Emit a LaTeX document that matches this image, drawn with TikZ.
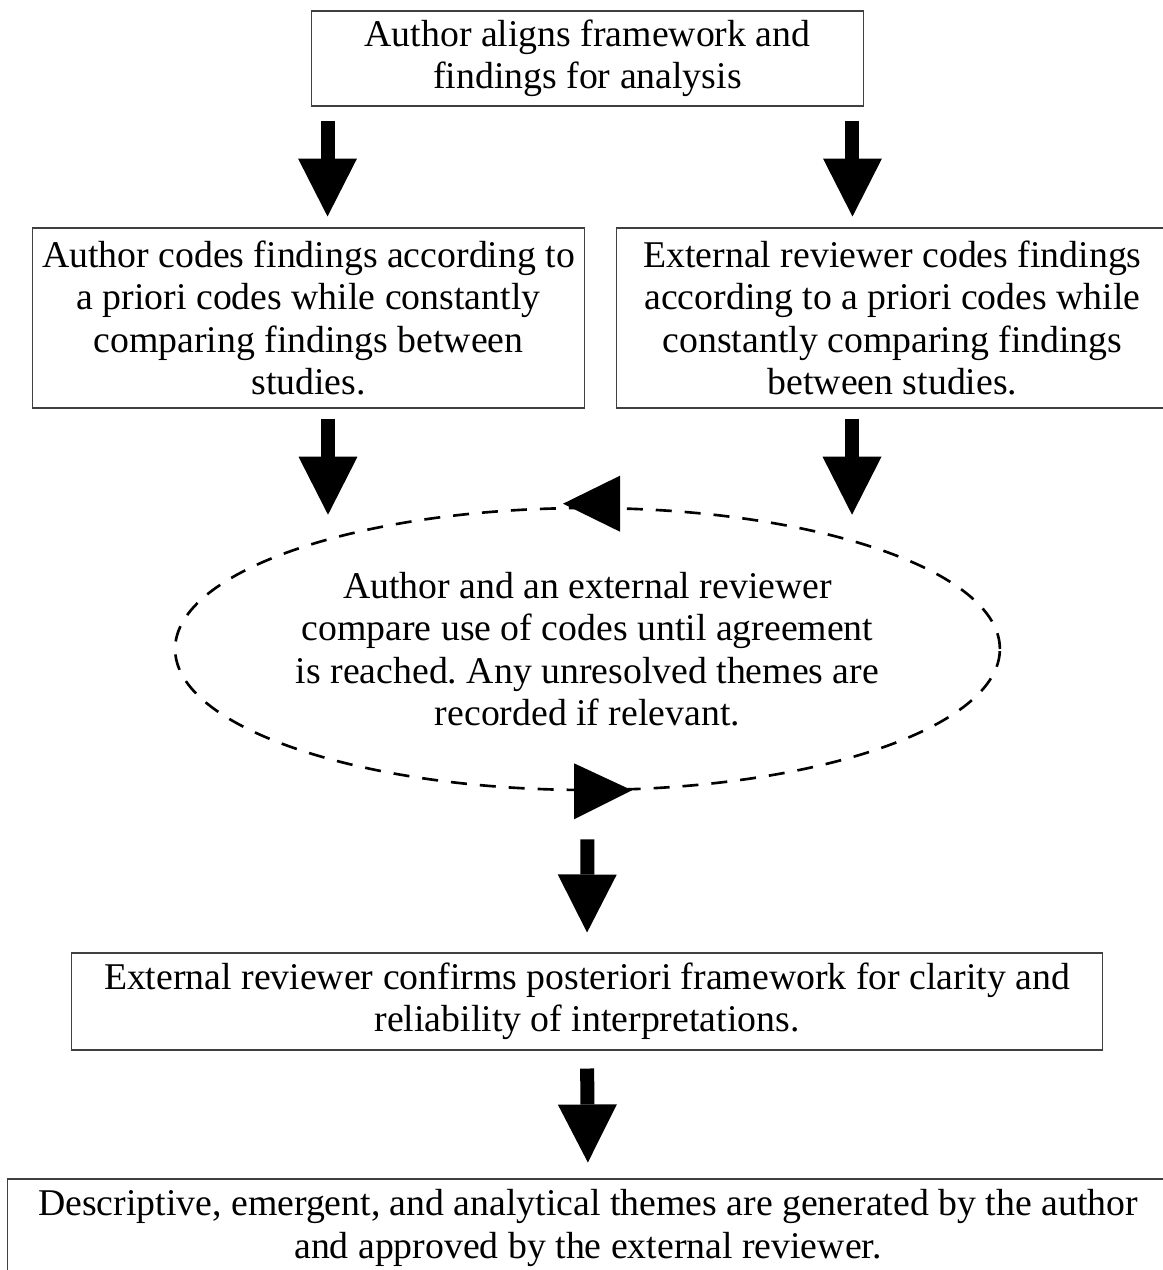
\documentclass[tikz,border=0pt]{standalone}
\usepackage{fontspec}
\setmainfont{Liberation Serif}
\usetikzlibrary{arrows.meta,shapes.geometric,positioning}
\tikzset{
  basic/.style  = {draw=black!75, line width=0.6pt, align=center, inner sep=0pt,
                   font=\fontsize{21.5}{24.2}\selectfont\frenchspacing},
  stage/.style  = {basic, rectangle},
  loop/.style   = {basic, ellipse, draw=black, line width=1.5pt,
                   dash pattern=on 0.32cm off 0.26cm},
  bigarrow/.style = {line width=0.28cm,
                   -{Triangle[width=1.18cm,length=1.16cm,line width=0pt]}}
}

\begin{document}
\begin{tikzpicture}[x=0.02cm, y=-0.02cm]
  \useasboundingbox (0,0) rectangle (1162,1270);

  % the stages, top to bottom
  \node[stage, minimum width=11.06cm, minimum height=1.90cm] (align) at (587.5,58.5)
    {Author aligns framework and\\findings for analysis};
  \node[stage, minimum width=11.06cm, minimum height=3.60cm] (author) at (308.5,318)
    {Author codes findings according to\\a priori codes while constantly\\comparing findings between\\studies.};
  \node[stage, minimum width=11.06cm, minimum height=3.60cm] (reviewer) at (892.5,318)
    {External reviewer codes findings\\according to a priori codes while\\constantly comparing findings\\between studies.};
  \node[loop, minimum width=16.48cm, minimum height=5.64cm] (compare) at (587.5,649)
    {Author and an external reviewer\\compare use of codes until agreement\\is reached. Any unresolved themes are\\recorded if relevant.};
  \node[stage, minimum width=20.64cm, minimum height=1.94cm] (confirm) at (587,1001.5)
    {External reviewer confirms posteriori framework for clarity and\\reliability of interpretations.};
  \node[stage, minimum width=23.24cm, minimum height=1.96cm] (themes) at (588,1228)
    {Descriptive, emergent, and analytical themes are generated by the author\\and approved by the external reviewer.};

  % arrow heads on the dashed loop
  \fill ([shift={(-24.5,-3)}]compare.north) -- ++(57,-28) -- ++(0,56) -- cycle;
  \fill ([shift={(-13.5,-28)}]compare.south) -- ++(58,27) -- ++(-58,29) -- cycle;

  % block arrows between the stages
  \draw[bigarrow, shorten <=0.28cm, shorten >=0.22cm]
    ([xshift=0.34cm]align.south west) -- ([xshift=0.34cm]align.south west |- author.north);
  \draw[bigarrow, shorten <=0.28cm, shorten >=0.22cm]
    ([xshift=-0.24cm]align.south east) -- ([xshift=-0.24cm]align.south east |- reviewer.north);
  \draw[bigarrow, shorten <=0.2cm, shorten >=-0.16cm]
    ([xshift=0.39cm]author.south) -- ([xshift=0.39cm]author.south |- compare.north);
  \draw[bigarrow, shorten <=0.2cm, shorten >=-0.16cm]
    ([xshift=-0.81cm]reviewer.south) -- ([xshift=-0.81cm]reviewer.south |- compare.north);
  \draw[bigarrow, shorten <=0.96cm, shorten >=0.4cm] (compare.south) -- (confirm.north);
  \draw[bigarrow, shorten <=0.36cm, shorten >=0.32cm] (confirm.south) -- (themes.north);
\end{tikzpicture}
\end{document}
